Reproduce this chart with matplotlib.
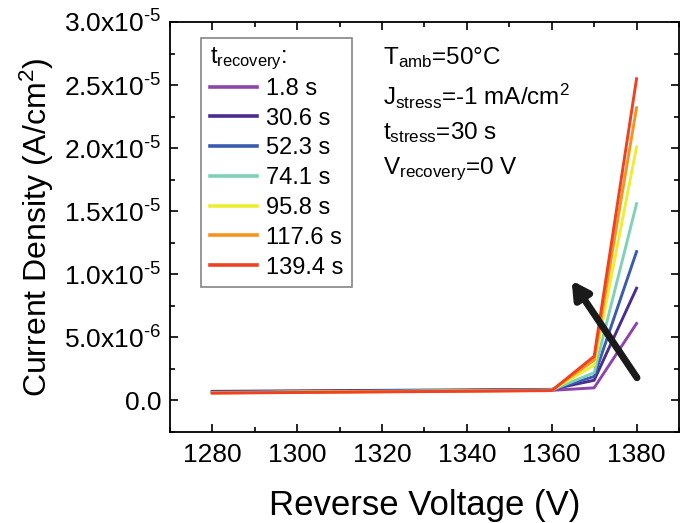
import matplotlib
matplotlib.use("Agg")
import matplotlib.pyplot as plt
from matplotlib.ticker import MultipleLocator, FuncFormatter

plt.rcParams['font.family'] = ['Liberation Sans', 'DejaVu Sans']
plt.rcParams['mathtext.fontset'] = 'custom'
plt.rcParams['mathtext.rm'] = 'Liberation Sans'
plt.rcParams['mathtext.it'] = 'Liberation Sans'

voltage = [1280, 1360, 1370, 1380]
labels = ["1.8 s", "30.6 s", "52.3 s", "74.1 s", "95.8 s", "117.6 s", "139.4 s"]
colors = ["#8e44ad", "#4a2d8f", "#3a5bb0", "#7fd1b9", "#eded32", "#f7941d", "#ef4123"]
j_1p8 = [0.70e-6, 0.80e-6, 1.0e-6, 6.1e-6]
j_30p6 = [0.72e-6, 0.88e-6, 1.6e-6, 8.9e-6]
j_52p3 = [0.66e-6, 0.85e-6, 1.9e-6, 11.8e-6]
j_74p1 = [0.63e-6, 0.83e-6, 2.2e-6, 15.6e-6]
j_95p8 = [0.61e-6, 0.80e-6, 2.8e-6, 20.1e-6]
j_117p6 = [0.60e-6, 0.80e-6, 3.2e-6, 23.2e-6]
j_139p4 = [0.58e-6, 0.78e-6, 3.5e-6, 25.5e-6]
series = [j_1p8, j_30p6, j_52p3, j_74p1, j_95p8, j_117p6, j_139p4]

fig = plt.figure(figsize=(6.82, 5.23), dpi=100)
ax = fig.add_axes([0.249, 0.174, 0.7466, 0.784])

for y, c, lab in zip(series, colors, labels):
    ax.plot(voltage, y, color=c, lw=2.1, label=lab)

ax.set_xlim(1270, 1390)
ax.set_ylim(-2.5e-6, 3.0e-5)
ax.xaxis.set_major_locator(MultipleLocator(20))
ax.xaxis.set_minor_locator(MultipleLocator(10))
ax.yaxis.set_major_locator(MultipleLocator(5e-6))
ax.yaxis.set_minor_locator(MultipleLocator(2.5e-6))


def fmt(v, pos):
    if abs(v) < 1e-12:
        return "0.0"
    if v >= 1e-5:
        return "%.1fx10$^{\\text{-5}}$" % (v / 1e-5)
    return "%.1fx10$^{\\text{-6}}$" % (v / 1e-6)


ax.yaxis.set_major_formatter(FuncFormatter(fmt))
ax.tick_params(which='both', direction='in', top=True, right=True, width=1.2)
ax.tick_params(which='major', length=6, labelsize=19)
ax.tick_params(which='minor', length=3.5)
ax.tick_params(axis='x', pad=8)
ax.tick_params(axis='y', pad=6)
for s in ax.spines.values():
    s.set_linewidth(1.3)

ax.set_xlabel("Reverse Voltage (V)", fontsize=25, labelpad=16)
ax.set_ylabel("Current Density (A/cm$^2$)", fontsize=23, labelpad=6)

leg = ax.legend(loc='upper left', bbox_to_anchor=(0.062, 0.962), fontsize=17,
                title="t$_{\\mathregular{recovery}}$:", title_fontsize=17,
                frameon=True, fancybox=False, edgecolor='#666666',
                handlelength=2.0, handletextpad=0.4, labelspacing=0.33,
                borderpad=0.35, borderaxespad=0)
leg._legend_box.align = "left"
leg._legend_box.sep = 4
leg.get_frame().set_linewidth(1.2)
for line in leg.get_lines():
    line.set_linewidth(2.6)

ax.annotate("", xy=(1364.7, 9.5e-6), xytext=(1380.1, 1.8e-6),
            arrowprops=dict(arrowstyle="-|>,head_length=1.0,head_width=0.55",
                            lw=5, color='#1a1a1a', shrinkA=0, shrinkB=0))

txt_x = 1320.2
ax.text(txt_x, 27.2e-6, "T$_{\\mathregular{amb}}$=50°C", fontsize=17.5, va='center')
ax.text(txt_x, 24.1e-6, "J$_{\\mathregular{stress}}$=-1 mA/cm$^2$", fontsize=17.5, va='center')
ax.text(txt_x, 21.2e-6, "t$_{\\mathregular{stress}}$=30 s", fontsize=17.5, va='center')
ax.text(txt_x, 18.3e-6, "V$_{\\mathregular{recovery}}$=0 V", fontsize=17.5, va='center')

fig.savefig("out.png", dpi=100)
